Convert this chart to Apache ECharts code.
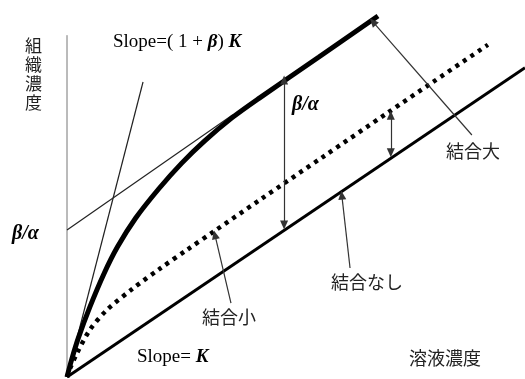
<!DOCTYPE html>
<html lang="ja">
<head>
    <meta charset="UTF-8">
    <title>組織濃度と溶液濃度</title>
    <script src="https://cdn.jsdelivr.net/npm/echarts@6/dist/echarts.min.js"></script>
    <style>
        body { margin: 0; background: #fff; }
        #chart { width: 525px; height: 379px; }
    </style>
</head>
<body>
<div id="chart"></div>
<script>
    // values (x: 溶液濃度, y: 組織濃度, arbitrary units)
    const noBind = [[0, 0], [100, 90.5]];
    const strongBind = [
        [0, 0], [1, 5.0], [2.5, 11.5], [5, 20.5], [8, 30.0], [11, 38.0],
        [15, 46.5], [20, 55.0], [25, 62.5], [30, 69.0], [36, 75.8],
        [42, 81.6], [55, 93.6], [67.9, 105.6]
    ];
    const weakBind = [
        [0, 0], [0.7, 2.6], [2.2, 7.0], [5.0, 13.8], [8.7, 19.6], [14.4, 25.9],
        [20.3, 31.7], [26.2, 37.2], [32.3, 42.8], [42.1, 51.8], [56.0, 64.5],
        [69.9, 77.2], [79.9, 86.3], [91.9, 97.2]
    ];
    const steepTangent = [[0, 0], [16.6, 86.3]];
    const asymptote = [[0, 43.0], [36.2, 76.7]];
    const yAxisLine = [[0, 0], [0, 100]];

    // arrows: [from, to, double-headed?]
    const arrows = [
        [[47.4, 44.5], [47.4, 86.9], true],
        [[70.7, 65.6], [70.7, 76.6], true],
        [[88.4, 70.8], [66.8, 103.9], false],
        [[61.8, 31.9], [60.0, 53.2], false],
        [[35.8, 21.6], [32.3, 41.6], false]
    ];

    const serif = '"Liberation Serif", "DejaVu Serif", serif';
    const jp = '"Noto Sans CJK JP", sans-serif';

    const chart = echarts.init(document.getElementById('chart'));

    const plain = (name, data, width, color, extra) => Object.assign({
        name: name,
        type: 'line',
        data: data,
        symbol: 'none',
        silent: true,
        lineStyle: { color: color, width: width }
    }, extra || {});

    const mathRich = {
        n: { fontFamily: serif, fontSize: 19, fill: '#000' },
        b: { fontFamily: serif, fontSize: 19, fontWeight: 'bold', fontStyle: 'italic', fill: '#000' }
    };

    const option = {
        animation: false,
        backgroundColor: '#fff',
        grid: { left: 67, right: 0, top: 1, bottom: 2 },
        xAxis: {
            type: 'value', min: 0, max: 100,
            axisLine: { show: false }, axisTick: { show: false },
            axisLabel: { show: false }, splitLine: { show: false }
        },
        yAxis: {
            type: 'value', min: 0, max: 110,
            axisLine: { show: false }, axisTick: { show: false },
            axisLabel: { show: false }, splitLine: { show: false }
        },
        series: [
            plain('axis', yAxisLine, 1, '#777'),
            plain('steep', steepTangent, 1.2, '#222'),
            plain('asymptote', asymptote, 1.2, '#222'),
            plain('結合なし', noBind, 3, '#000'),
            plain('結合小', weakBind, 4.5, '#000', {
                smooth: 0.3,
                lineStyle: { color: '#000', width: 4.5, type: [4, 5], cap: 'butt' }
            }),
            plain('結合大', strongBind, 5, '#000', { smooth: 0.3 }),
            {
                type: 'line',
                data: [],
                silent: true,
                markLine: {
                    silent: true,
                    animation: false,
                    label: { show: false },
                    lineStyle: { color: '#333', width: 1.2, type: 'solid' },
                    symbolSize: [8, 9],
                    data: arrows.map(a => [
                        { coord: a[0], symbol: a[2] ? 'triangle' : 'none' },
                        { coord: a[1], symbol: 'triangle' }
                    ])
                }
            }
        ],
        graphic: [
            {
                type: 'text', left: 25, top: 36,
                style: { text: '組\n織\n濃\n度', font: '17px ' + jp, lineHeight: 19, fill: '#222' }
            },
            {
                type: 'text', left: 113, top: 33,
                style: { text: '{n|Slope=( 1 + }{b|β}{n|) }{b|K}', rich: mathRich }
            },
            {
                type: 'text', left: 12, top: 224,
                style: { text: 'β/α', font: 'italic bold 20px ' + serif, fill: '#000' }
            },
            {
                type: 'text', left: 292, top: 95,
                style: { text: 'β/α', font: 'italic bold 20px ' + serif, fill: '#000' }
            },
            {
                type: 'text', left: 137, top: 348,
                style: { text: '{n|Slope= }{b|K}', rich: mathRich }
            },
            {
                type: 'text', left: 446, top: 142,
                style: { text: '結合大', font: '18px ' + jp, fill: '#222' }
            },
            {
                type: 'text', left: 331, top: 273,
                style: { text: '結合なし', font: '18px ' + jp, fill: '#222' }
            },
            {
                type: 'text', left: 202, top: 308,
                style: { text: '結合小', font: '18px ' + jp, fill: '#222' }
            },
            {
                type: 'text', left: 409, top: 349,
                style: { text: '溶液濃度', font: '18px ' + jp, fill: '#222' }
            }
        ]
    };

    chart.setOption(option);
    window.addEventListener('resize', chart.resize);
</script>
</body>
</html>
